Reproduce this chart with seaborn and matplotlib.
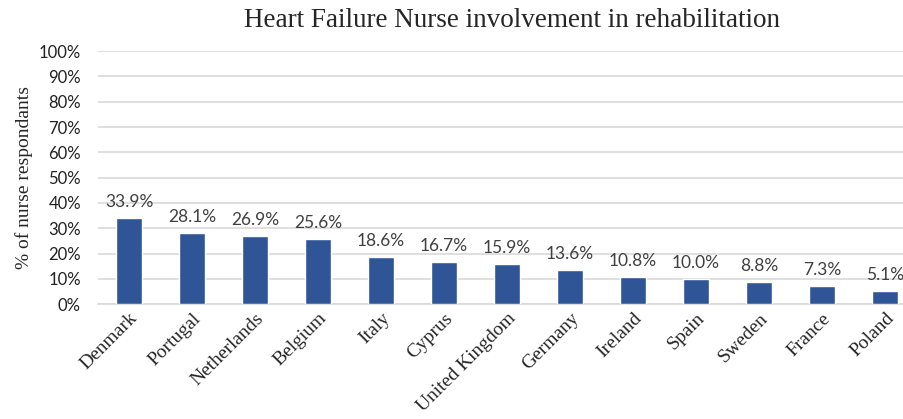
import matplotlib
matplotlib.use('Agg')
import matplotlib.pyplot as plt
import seaborn as sns
import pandas as pd

countries = ['Denmark', 'Portugal', 'Netherlands', 'Belgium', 'Italy', 'Cyprus',
             'United Kingdom', 'Germany', 'Ireland', 'Spain', 'Sweden', 'France', 'Poland']
values = [33.9, 28.1, 26.9, 25.6, 18.6, 16.7, 15.9, 13.6, 10.8, 10.0, 8.8, 7.3, 5.1]

df = pd.DataFrame({'Country': countries, 'Pct': values})

sns.set_style('white')
plt.rcParams['font.family'] = ['Lato', 'DejaVu Sans']

fig = plt.figure(figsize=(9.04, 4.19), dpi=100)
ax = fig.add_axes([0.108, 0.274, 0.892, 0.604])

sns.barplot(data=df, x='Country', y='Pct', color='#2F5597', width=0.41,
            saturation=1, ax=ax, zorder=3)

for i, v in enumerate(values):
    ax.text(i, v + 3.2, f'{v:.1f}%', ha='center', va='bottom',
            fontsize=12.5, color='#404040')

ax.set_ylim(0, 100)
ax.set_xlim(-0.5, 12.3)
ax.set_yticks(range(0, 101, 10))
ax.set_yticklabels([f'{t}%' for t in range(0, 101, 10)], fontsize=12, color='#222222')
ax.yaxis.grid(True, color='#D9D9D9', linewidth=1.2, zorder=0)
ax.tick_params(axis='both', length=0)
ax.tick_params(axis='y', pad=12)
ax.tick_params(axis='x', pad=4)

ax.set_xticks(range(len(countries)))
ax.set_xticklabels(countries, rotation=45, ha='right', rotation_mode='anchor',
                   fontsize=14, family='Liberation Serif')
ax.set_xlabel('')
ax.set_ylabel('% of nurse respondants', family='Liberation Serif', fontsize=14, labelpad=4)

for s in ['top', 'right', 'left']:
    ax.spines[s].set_visible(False)
ax.spines['bottom'].set_color('#D9D9D9')
ax.spines['bottom'].set_linewidth(1.2)

fig.text(0.566, 0.952, 'Heart Failure Nurse involvement in rehabilitation',
         ha='center', va='center', family='Liberation Serif', fontsize=19.5)

fig.savefig('out.png', dpi=100)
